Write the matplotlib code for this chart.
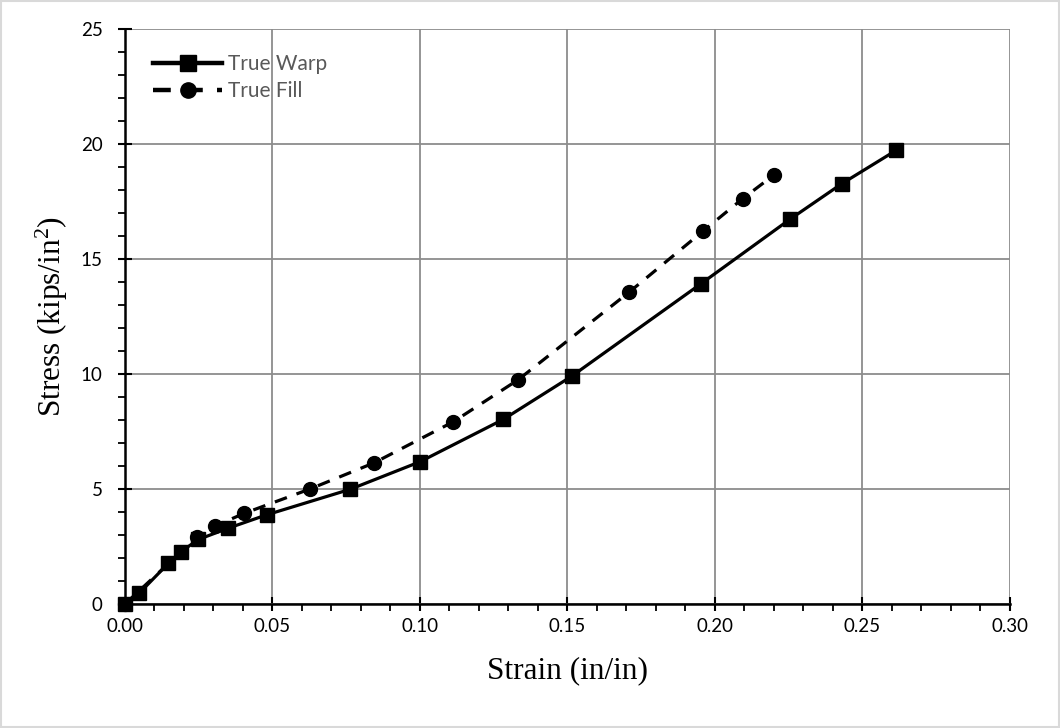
"""
Stress-strain curves, true warp vs true fill.
"""

import matplotlib
matplotlib.use('Agg')
from matplotlib import pyplot as plt
from matplotlib.ticker import MultipleLocator, FormatStrFormatter

warp_strain = [0.0, 0.0049, 0.0147, 0.0189, 0.0249, 0.035, 0.048, 0.0763,
               0.100, 0.1282, 0.1514, 0.1953, 0.2254, 0.243, 0.2614]
warp_stress = [0.0, 0.48, 1.77, 2.27, 2.81, 3.3, 3.88, 4.99,
               6.19, 8.03, 9.91, 13.94, 16.74, 18.29, 19.74]

fill_strain = [0.0, 0.0243, 0.0305, 0.0403, 0.0628, 0.0844, 0.1113, 0.1333,
               0.171, 0.196, 0.2094, 0.220]
fill_stress = [0.0, 2.9, 3.39, 3.94, 5.01, 6.14, 7.93, 9.76,
               13.58, 16.23, 17.64, 18.67]

plt.rcParams['mathtext.fontset'] = 'custom'
plt.rcParams['mathtext.rm'] = 'Liberation Serif'
plt.rcParams['mathtext.it'] = 'Liberation Serif:italic'

fig = plt.figure(figsize=(10.6, 7.28), dpi=100)
fig.patches.append(plt.Rectangle((0.001, 0.001), 0.998, 0.997, transform=fig.transFigure,
                                 fill=False, edgecolor='#d9d9d9', linewidth=1.5))
ax = fig.add_axes([0.1179, 0.1703, 0.8349, 0.7892])

ax.plot(warp_strain, warp_stress, color='black', linewidth=2.3, marker='s',
        markersize=10, label='True Warp', zorder=4, clip_on=False)
ax.plot(fill_strain, fill_stress, color='black', linewidth=2.3, marker='o',
        markersize=10, dashes=(4, 3.2), label='True Fill', zorder=3, clip_on=False)

ax.set_xlim(0, 0.30)
ax.set_ylim(0, 25)
ax.xaxis.set_major_locator(MultipleLocator(0.05))
ax.xaxis.set_minor_locator(MultipleLocator(0.01))
ax.yaxis.set_major_locator(MultipleLocator(5))
ax.yaxis.set_minor_locator(MultipleLocator(1))
ax.xaxis.set_major_formatter(FormatStrFormatter('%.2f'))

ax.grid(which='major', color='#8c8c8c', linewidth=1.3)
ax.set_axisbelow(True)
for side in ['top', 'right']:
    ax.spines[side].set_visible(False)
for side in ['left', 'bottom']:
    ax.spines[side].set_linewidth(1.8)
    ax.spines[side].set_zorder(2)

ax.tick_params(which='major', direction='inout', length=10, width=1.5,
               labelsize=13.5, pad=5)
ax.tick_params(axis='y', which='major', pad=11)
ax.tick_params(which='minor', direction='out', length=5, width=1.3)
for lab in ax.get_xticklabels() + ax.get_yticklabels():
    lab.set_fontfamily('Lato')

ax.set_xlabel('Strain (in/in)', fontsize=22.5, family='Liberation Serif', labelpad=15)
ax.set_ylabel('Stress (kips/in$^2$)', fontsize=22.5, family='Liberation Serif', labelpad=8)

leg = ax.legend(loc='upper left', frameon=False, handlelength=3.3,
                bbox_to_anchor=(0.006, 0.997),
                borderaxespad=0.5, labelspacing=0.35, handletextpad=0.3,
                borderpad=0.6, prop={'family': 'Lato', 'size': 15})
for t in leg.get_texts():
    t.set_color('#595959')
for h in leg.legend_handles:
    h.set_linewidth(3.2)
    h.set_markersize(11)

fig.savefig('out.png', dpi=100)
